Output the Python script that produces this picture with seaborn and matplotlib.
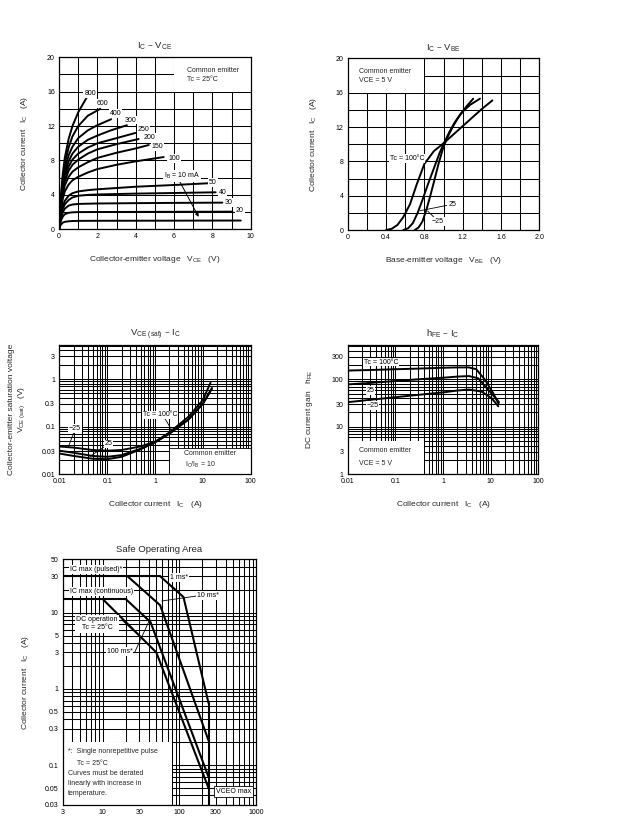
import numpy as np
import matplotlib
matplotlib.use("Agg")
import matplotlib.pyplot as plt
import seaborn as sns
from matplotlib.ticker import LogLocator, NullFormatter, MultipleLocator
from matplotlib.patches import Rectangle

# ---- Ic - Vce (curvas por corrente de base, mA)
ib800_v = [0, 0.05, 0.1, 0.2, 0.3, 0.5, 0.7, 1.0, 1.45]
ib800_i = [0, 2.0, 4.0, 6.5, 8.3, 10.5, 12.0, 13.6, 15.35]
ib600_v = [0, 0.05, 0.1, 0.2, 0.3, 0.5, 0.7, 1.0, 1.5, 2.15]
ib600_i = [0, 1.8, 3.6, 6.0, 7.6, 9.5, 10.8, 12.0, 13.2, 14.0]
ib400_v = [0, 0.05, 0.1, 0.2, 0.3, 0.5, 0.7, 1.0, 1.5, 2.0, 2.72]
ib400_i = [0, 1.7, 3.3, 5.5, 6.9, 8.6, 9.6, 10.6, 11.5, 12.1, 12.8]
ib300_v = [0, 0.05, 0.1, 0.2, 0.3, 0.5, 0.7, 1.0, 1.5, 2.0, 2.7, 3.54]
ib300_i = [0, 1.6, 3.1, 5.1, 6.4, 7.9, 8.8, 9.6, 10.4, 10.9, 11.5, 12.1]
ib250_v = [0, 0.05, 0.1, 0.2, 0.3, 0.5, 0.7, 1.0, 1.5, 2.0, 3.0, 3.98]
ib250_i = [0, 1.5, 2.9, 4.8, 6.0, 7.3, 8.1, 8.8, 9.5, 10.0, 10.6, 11.2]
ib200_v = [0, 0.05, 0.1, 0.2, 0.3, 0.5, 0.7, 1.0, 1.5, 2.0, 3.0, 4.15]
ib200_i = [0, 1.4, 2.7, 4.5, 5.6, 6.8, 7.5, 8.1, 8.8, 9.3, 9.9, 10.5]
ib150_v = [0, 0.05, 0.1, 0.2, 0.3, 0.5, 0.7, 1.0, 1.5, 2.0, 3.0, 4.0, 4.68]
ib150_i = [0, 1.3, 2.5, 4.1, 5.1, 6.1, 6.7, 7.2, 7.8, 8.3, 8.9, 9.4, 9.8]
ib100_v = [0, 0.05, 0.1, 0.2, 0.3, 0.5, 0.7, 1.0, 1.5, 2.0, 3.0, 4.0, 5.46]
ib100_i = [0, 1.2, 2.2, 3.6, 4.4, 5.2, 5.7, 6.1, 6.6, 7.0, 7.5, 7.9, 8.4]
ib50_v = [0, 0.05, 0.1, 0.2, 0.3, 0.5, 0.7, 1.0, 1.5, 2.0, 3.0, 4.0, 5.0, 6.0, 7.77]
ib50_i = [0, 0.9, 1.7, 2.7, 3.3, 3.9, 4.2, 4.4, 4.55, 4.65, 4.8, 4.95, 5.05, 5.15, 5.35]
ib40_v = [0, 0.05, 0.1, 0.2, 0.3, 0.5, 0.7, 1.0, 1.5, 2.0, 4.0, 6.0, 8.17]
ib40_i = [0, 0.8, 1.5, 2.4, 2.9, 3.4, 3.7, 3.9, 4.0, 4.05, 4.15, 4.22, 4.3]
ib30_v = [0, 0.05, 0.1, 0.2, 0.3, 0.5, 0.7, 1.0, 2.0, 4.0, 6.0, 8.52]
ib30_i = [0, 0.7, 1.3, 2.0, 2.4, 2.75, 2.88, 2.95, 3.0, 3.04, 3.07, 3.1]
ib20_v = [0, 0.05, 0.1, 0.2, 0.3, 0.5, 0.7, 1.0, 2.0, 5.0, 9.04]
ib20_i = [0, 0.55, 1.0, 1.5, 1.75, 1.92, 1.97, 2.0, 2.01, 2.03, 2.05]
ib10_v = [0, 0.05, 0.1, 0.2, 0.3, 0.5, 0.7, 1.0, 2.0, 5.0, 9.48]
ib10_i = [0, 0.3, 0.55, 0.78, 0.87, 0.93, 0.96, 0.98, 0.99, 1.0, 1.02]

# ---- Ic - Vbe
t100_v = [0.40, 0.46, 0.52, 0.58, 0.65, 0.72, 0.80, 0.90, 1.00, 1.10, 1.20, 1.30, 1.40, 1.51]
t100_i = [0, 0.15, 0.6, 1.5, 3.0, 5.3, 7.7, 9.2, 10.1, 11.1, 12.1, 13.1, 14.1, 15.1]
t25_v = [0.58, 0.63, 0.68, 0.73, 0.78, 0.84, 0.90, 0.96, 1.00, 1.06, 1.12, 1.20, 1.28, 1.38]
t25_i = [0, 0.2, 0.8, 2.0, 3.5, 5.4, 7.2, 9.0, 10.0, 11.4, 12.6, 13.8, 14.6, 15.3]
tm25_v = [0.70, 0.74, 0.78, 0.82, 0.86, 0.90, 0.95, 1.00, 1.05, 1.10, 1.17, 1.24, 1.31]
tm25_i = [0, 0.3, 1.0, 2.3, 3.9, 5.6, 7.8, 9.7, 11.0, 12.1, 13.4, 14.4, 15.3]

# ---- Vce(sat) - Ic
sat_ic = [0.01, 0.02, 0.05, 0.1, 0.2, 0.5, 1, 2, 5, 10]
sat_m25 = [0.038, 0.036, 0.032, 0.031, 0.032, 0.038, 0.048, 0.072, 0.14, 0.30]
sat_25 = [0.031, 0.028, 0.024, 0.023, 0.025, 0.034, 0.046, 0.070, 0.14, 0.30]
sat_100 = [0.027, 0.024, 0.021, 0.0205, 0.023, 0.033, 0.047, 0.075, 0.16, 0.36]
sat_fim_ic = [15.5, 15.5, 14.5]
sat_fim_v = [0.62, 0.65, 0.84]

# ---- hFE - Ic
hfe100_ic = [0.01, 0.03, 0.1, 0.3, 1, 2, 3.5, 5, 7.6, 11.3, 14.8]
hfe100 = [153, 157, 163, 168, 175, 178, 178, 163, 98, 51, 30]
hfe25_ic = [0.01, 0.03, 0.1, 0.3, 1, 2, 3.5, 5.5, 8.9, 13.4, 15]
hfe25 = [78, 84, 92, 100, 108, 114, 117, 105, 60, 38, 33]
hfem25_ic = [0.01, 0.03, 0.1, 0.3, 1, 2, 3.5, 6.5, 10.5, 14.5]
hfem25 = [33, 37, 42, 47, 53, 58, 61, 55, 40, 27]

# ---- Safe Operating Area
soa_pulso_v, soa_pulso_i = [3, 56], [30, 30]
soa_cont_v, soa_cont_i = [3, 20], [15, 15]
soa_1ms_v, soa_1ms_i = [56, 113, 240], [30, 16, 0.65]
soa_10ms_v, soa_10ms_i = [21, 56, 240], [30, 12.5, 0.21]
soa_100ms_v, soa_100ms_i = [20, 42, 240], [15, 7.5, 0.07]
soa_dc_v, soa_dc_i = [10, 50, 240], [15, 3, 0.05]
soa_vceo_v, soa_vceo_i = [240, 240], [0.65, 0.03]

sns.set_theme(style="white")
plt.rcParams['font.family'] = ['Liberation Sans', 'DejaVu Sans']
plt.rcParams['mathtext.default'] = 'regular'

fig = plt.figure(figsize=(6.24, 8.16), dpi=100)

TICK = 5
LAB = 6
TIT = 6.8


def curva(ax, x, y, lw=1.4):
    sns.lineplot(x=x, y=y, ax=ax, color='black', lw=lw, estimator=None,
                 sort=False, zorder=3)


def rotulo(ax, x, y, s, ha='left', va='center', fs=5, pad=0.6, ec='none'):
    ax.text(x, y, s, ha=ha, va=va, fontsize=fs, zorder=5, color='black',
            bbox=dict(fc='white', ec=ec, lw=0.6, pad=pad))


def linha(ax, x, y):
    ax.plot(x, y, color='black', lw=0.6, zorder=4)


def caixa(ax, x0, y0, x1, y1, ec='none'):
    ax.add_patch(Rectangle((x0, y0), x1 - x0, y1 - y0, fc='white', ec=ec,
                           lw=0.6, zorder=1))


def base(ax):
    ax.set_axisbelow(True)
    ax.grid(which='both', color='black', lw=0.75)
    ax.tick_params(which='both', labelsize=TICK, length=1.5, width=0.6,
                   pad=1.5, colors='black', direction='out')
    ax.tick_params(which='minor', length=0)
    for s in ax.spines.values():
        s.set_color('black')
        s.set_linewidth(0.9)


def eixo_log(ax, xlim, ylim, xt, yt):
    ax.set_xscale('log')
    ax.set_yscale('log')
    ax.set_xlim(*xlim)
    ax.set_ylim(*ylim)
    ax.set_xticks(xt, [f"{v:g}" for v in xt])
    ax.set_yticks(yt, [f"{v:g}" for v in yt])
    for a in (ax.xaxis, ax.yaxis):
        a.set_minor_locator(LogLocator(base=10, subs=np.arange(2, 10), numticks=30))
        a.set_minor_formatter(NullFormatter())
    base(ax)


# ================= Ic - Vce
ax1 = fig.add_axes([0.0946, 0.7190, 0.3072, 0.2108])
ax1.set_xlim(0, 10)
ax1.set_ylim(0, 20)
ax1.set_xticks(range(0, 11, 2))
ax1.set_yticks(range(0, 21, 4))
ax1.xaxis.set_minor_locator(MultipleLocator(1))
ax1.yaxis.set_minor_locator(MultipleLocator(2))
base(ax1)
caixa(ax1, 6, 16, 10, 20)
ax1.text(6.65, 18.45, "Common emitter", fontsize=5, va='center')
ax1.text(6.65, 17.4, "Tc = 25°C", fontsize=5, va='center')
for v, i in [(ib800_v, ib800_i), (ib600_v, ib600_i), (ib400_v, ib400_i),
             (ib300_v, ib300_i), (ib250_v, ib250_i), (ib200_v, ib200_i),
             (ib150_v, ib150_i), (ib100_v, ib100_i), (ib50_v, ib50_i),
             (ib40_v, ib40_i), (ib30_v, ib30_i), (ib20_v, ib20_i),
             (ib10_v, ib10_i)]:
    curva(ax1, v, i)
for x, y, s in [(1.62, 15.8, "800"), (2.27, 14.65, "600"), (2.93, 13.5, "400"),
                (3.72, 12.7, "300"), (4.41, 11.66, "250"), (4.73, 10.7, "200"),
                (5.15, 9.6, "150"), (5.99, 8.25, "100"), (8.03, 5.42, "50"),
                (8.52, 4.3, "40"), (8.86, 3.1, "30"), (9.44, 2.24, "20")]:
    rotulo(ax1, x, y, s, ha='center')
rotulo(ax1, 6.42, 6.2, r"I$_B$ = 10 mA", ha='center')
ax1.annotate('', xy=(7.35, 1.16), xytext=(6.25, 5.75),
             arrowprops=dict(arrowstyle='-|>', color='black', lw=0.7,
                             mutation_scale=5), zorder=4)
ax1.set_title(r"I$_C$ – V$_{CE}$", fontsize=TIT, pad=6)
ax1.set_xlabel(r"Collector-emitter voltage   V$_{CE}$   (V)", fontsize=LAB, labelpad=10)
ax1.set_ylabel(r"Collector current   I$_C$   (A)", fontsize=LAB, labelpad=12)

# ================= Ic - Vbe
ax2 = fig.add_axes([0.5572, 0.7181, 0.3071, 0.2104])
ax2.set_xlim(0, 2)
ax2.set_ylim(0, 20)
xt2 = [0, 0.4, 0.8, 1.2, 1.6, 2.0]
ax2.set_xticks(xt2, ["0", "0.4", "0.8", "1.2", "1.6", "2.0"])
ax2.set_yticks(range(0, 21, 4))
ax2.xaxis.set_minor_locator(MultipleLocator(0.2))
ax2.yaxis.set_minor_locator(MultipleLocator(2))
base(ax2)
caixa(ax2, 0, 16, 0.8, 20)
ax2.text(0.121, 18.5, "Common emitter", fontsize=5, va='center')
ax2.text(0.121, 17.4, "VCE = 5 V", fontsize=5, va='center')
curva(ax2, t100_v, t100_i)
curva(ax2, t25_v, t25_i)
curva(ax2, tm25_v, tm25_i)
rotulo(ax2, 0.80, 8.3, "Tc = 100°C", ha='right')
rotulo(ax2, 1.05, 3.0, "25", ha='left')
linha(ax2, [1.05, 0.755], [2.9, 2.25])
rotulo(ax2, 0.88, 1.0, "−25", ha='left')
linha(ax2, [0.9, 0.835], [1.5, 2.2])
ax2.set_title(r"I$_C$ – V$_{BE}$", fontsize=TIT, pad=6)
ax2.set_xlabel(r"Base-emitter voltage   V$_{BE}$   (V)", fontsize=LAB, labelpad=10)
ax2.set_ylabel(r"Collector current   I$_C$   (A)", fontsize=LAB, labelpad=12)

# ================= Vce(sat) - Ic
ax3 = fig.add_axes([0.0950, 0.4191, 0.3067, 0.1581])
eixo_log(ax3, (0.01, 100), (0.01, 5.2), [0.01, 0.1, 1, 10, 100],
         [0.01, 0.03, 0.1, 0.3, 1, 3])
caixa(ax3, 2, 0.01, 100, 0.036, ec='black')
ax3.text(4.04, 0.0274, "Common emitter", fontsize=5, va='center', zorder=2)
ax3.text(4.2, 0.0155, r"I$_C$/I$_B$ = 10", fontsize=5, va='center', zorder=2)
for serie, k in [(sat_m25, 0), (sat_25, 1), (sat_100, 2)]:
    curva(ax3, sat_ic + [sat_fim_ic[k]], serie + [sat_fim_v[k]])
rotulo(ax3, 0.0213, 0.092, "−25", ha='center')
linha(ax3, [0.0205, 0.0155], [0.078, 0.0375])
rotulo(ax3, 0.108, 0.043, "25", ha='center')
linha(ax3, [0.092, 0.044], [0.039, 0.0235])
rotulo(ax3, 1.27, 0.176, "Tc = 100°C", ha='center')
linha(ax3, [1.6, 2.23], [0.15, 0.085])
ax3.set_title(r"V$_{CE\ (sat)}$ – I$_C$", fontsize=TIT, pad=6)
ax3.set_xlabel(r"Collector current   I$_C$   (A)", fontsize=LAB, labelpad=10)
ax3.set_ylabel("Collector-emitter saturation voltage\n" + r"V$_{CE\ (sat)}$   (V)",
               fontsize=LAB, labelpad=10)

# ================= hFE - Ic
ax4 = fig.add_axes([0.5572, 0.4188, 0.3054, 0.1585])
eixo_log(ax4, (0.01, 100), (1, 530), [0.01, 0.1, 1, 10, 100],
         [1, 3, 10, 30, 100, 300])
caixa(ax4, 0.01, 1, 0.4, 5)
ax4.text(0.0175, 3.1, "Common emitter", fontsize=5, va='center', zorder=2)
ax4.text(0.0175, 1.65, "VCE = 5 V", fontsize=5, va='center', zorder=2)
curva(ax4, hfe100_ic, hfe100)
curva(ax4, hfe25_ic, hfe25)
curva(ax4, hfem25_ic, hfem25)
rotulo(ax4, 0.022, 231, "Tc = 100°C", ha='left')
rotulo(ax4, 0.025, 58, "25", ha='left')
rotulo(ax4, 0.025, 28, "−25", ha='left')
ax4.set_title(r"h$_{FE}$ – I$_C$", fontsize=TIT, pad=6)
ax4.set_xlabel(r"Collector current   I$_C$   (A)", fontsize=LAB, labelpad=10)
ax4.set_ylabel(r"DC current gain   h$_{FE}$", fontsize=LAB, labelpad=12)

# ================= Safe Operating Area
ax5 = fig.add_axes([0.1005, 0.0135, 0.3098, 0.3011])
eixo_log(ax5, (3, 1000), (0.03, 50), [3, 10, 30, 100, 300, 1000],
         [0.03, 0.05, 0.1, 0.3, 0.5, 1, 3, 5, 10, 30, 50])
caixa(ax5, 3, 0.03, 80, 0.2)
for y, s, x in [(0.15, "*:  Single nonrepetitive pulse", 3.55), (0.106, "Tc = 25°C", 4.65),
                (0.077, "Curves must be derated", 3.55),
                (0.057, "linearly with increase in", 3.55), (0.042, "temperature.", 3.55)]:
    ax5.text(x, y, s, fontsize=5, va='center', zorder=2)
for v, i in [(soa_pulso_v, soa_pulso_i), (soa_cont_v, soa_cont_i),
             (soa_1ms_v, soa_1ms_i), (soa_10ms_v, soa_10ms_i),
             (soa_100ms_v, soa_100ms_i), (soa_dc_v, soa_dc_i),
             (soa_vceo_v, soa_vceo_i)]:
    curva(ax5, v, i, lw=1.5)
rotulo(ax5, 3.75, 37, "IC max (pulsed)*")
rotulo(ax5, 3.75, 18.8, "IC max (continuous)")
rotulo(ax5, 8.4, 7.1, "DC operation\nTc = 25°C", ha='center', pad=1.0)
rotulo(ax5, 11.3, 3.07, "100 ms*")
linha(ax5, [26.3, 41.4], [3.07, 8.26])
linha(ax5, [17.7, 35.7], [8.0, 4.2])
rotulo(ax5, 75.5, 28.7, "1 ms*")
rotulo(ax5, 168, 16.7, "10 ms*")
linha(ax5, [168, 59], [16.5, 14.2])
rotulo(ax5, 505, 0.045, "VCEO max", ha='center', pad=1.2, ec='black')
ax5.set_title("Safe Operating Area", fontsize=TIT, pad=5)
ax5.set_ylabel(r"Collector current   I$_C$   (A)", fontsize=LAB, labelpad=10)

fig.savefig("out.png", dpi=100)
